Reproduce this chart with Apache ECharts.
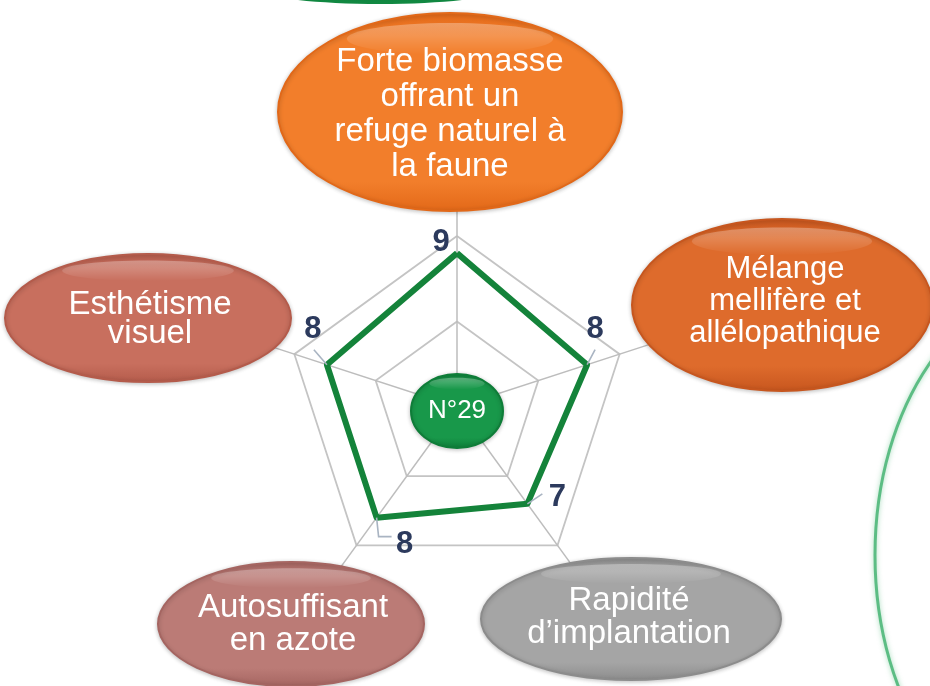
<!DOCTYPE html>
<html><head><meta charset="utf-8">
<script src="https://cdn.jsdelivr.net/npm/echarts@6/dist/echarts.min.js"></script>
<style>html,body{margin:0;padding:0;background:#fff}#c{width:930px;height:686px}</style>
</head><body><div id="c"></div>
<script>
// ---- data ----
const indicatorNames = [
  'Forte biomasse\noffrant un\nrefuge naturel à\nla faune',
  'Esthétisme\nvisuel',
  'Autosuffisant\nen azote',
  'Rapidité\nd\u2019implantation',
  'Mélange\nmellifère et\nallélopathique'
];
const scores = [9, 8, 8, 7, 8];
const maxScore = 10;
const seriesName = 'N°29';

// ---- layout / styles ----
const FONT = '"Liberation Sans", Arial, sans-serif';
const CENTER = [457, 407];
const R = 171;
// bubble layout for each indicator: [cx, cy, rx, ry, colorMain, colorEdge, fontSize, lineHeight, textDx, textDy]
const bubbles = [
  [450, 112, 172, 99, '#F27E2B', '#E26818', 33, 35, 0, 2],
  [148, 318, 143, 64, '#C86F5E', '#B45B4B', 33, 29, 2, 1],
  [291, 624, 133, 62, '#BB7B76', '#A56561', 33, 33, 2, 0],
  [631, 619, 150, 61, '#A5A5A5', '#8C8C8C', 33, 33, -2, -2],
  [782, 305, 150, 86, '#DE6B2C', '#C7561E', 31, 32, 3, -4]
];
// value label offsets relative to data vertex
const labelLayout = [
  {d: [-16, -11], lead: []},
  {d: [-14, -35], lead: [[-13, -15]]},
  {d: [28, 27], lead: [[2, 19], [15, 19]]},
  {d: [30, -6], lead: [[15, -10]]},
  {d: [8, -35], lead: [[8, -15]]}
];

const chart = echarts.init(document.getElementById('c'), null, {renderer: 'canvas'});
const ind = indicatorNames.map(n => ({name: n, max: maxScore}));
chart.setOption({
  animation: false,
  backgroundColor: '#ffffff',
  radar: [
    {
      center: CENTER, radius: 205, startAngle: 90, splitNumber: 1, shape: 'polygon',
      indicator: ind,
      axisName: {show: false},
      axisLine: {lineStyle: {color: '#bdbdbd', width: 1.5}},
      splitLine: {show: false}, splitArea: {show: false},
      axisTick: {show: false}, axisLabel: {show: false}
    },
    {
      center: CENTER, radius: R, startAngle: 90, splitNumber: 2, shape: 'polygon',
      indicator: ind,
      axisName: {show: false},
      axisLine: {show: false},
      splitLine: {lineStyle: {color: '#c4c4c4', width: 1.8}},
      splitArea: {show: false},
      axisTick: {show: false}, axisLabel: {show: false}
    }
  ],
  series: [{
    type: 'radar', radarIndex: 1, name: seriesName, symbol: 'none', z: 3,
    lineStyle: {color: '#14833A', width: 6},
    data: [{value: scores, name: seriesName}]
  }]
});

const rc = chart.getModel().getComponent('radar', 1).coordinateSystem;
const pts = scores.map((v, i) => rc.dataToPoint(v, i));
const cx = rc.cx, cy = rc.cy;

const g = [];
// decorative green shapes
g.push({type: 'ellipse', z: 1, shape: {cx: 380, cy: -12, rx: 124, ry: 16},
  style: {fill: {type: 'linear', x: 0, y: 0, x2: 0, y2: 1, colorStops: [{offset: 0, color: '#0B6E33'}, {offset: 1, color: '#118A42'}]}}});
g.push({type: 'ellipse', z: 1, shape: {cx: 1060, cy: 555, rx: 185, ry: 270},
  style: {fill: 'none', stroke: 'rgba(70,180,115,0.85)', lineWidth: 3, shadowBlur: 5, shadowColor: 'rgba(70,180,115,0.6)'}});

function bubble(b, text) {
  const [bx, by, rx, ry, c1, c2, fs, lh, tdx, tdy] = b;
  g.push({type: 'ellipse', z: 100, shape: {cx: bx, cy: by, rx: rx, ry: ry},
    style: {fill: {type: 'linear', x: 0, y: 0, x2: 0, y2: 1, colorStops: [{offset: 0, color: c2}, {offset: 0.12, color: c1}, {offset: 0.85, color: c1}, {offset: 1, color: c2}]},
      stroke: c2, lineWidth: 2,
      shadowBlur: 4, shadowColor: 'rgba(0,0,0,0.22)', shadowOffsetY: 1}});
  g.push({type: 'ellipse', z: 101, shape: {cx: bx, cy: by - ry * 0.74, rx: rx * 0.6, ry: ry * 0.16},
    style: {fill: {type: 'linear', x: 0, y: 0, x2: 0, y2: 1, colorStops: [{offset: 0, color: 'rgba(255,255,255,0.3)'}, {offset: 1, color: 'rgba(255,255,255,0)'}]}}});
  if (text) {
    g.push({type: 'text', z: 102, x: bx + tdx, y: by + tdy,
      style: {text: text, fill: '#ffffff', fontFamily: FONT, fontSize: fs, lineHeight: lh, align: 'center', verticalAlign: 'middle'}});
  }
}
indicatorNames.forEach((n, i) => bubble(bubbles[i], n));

// centre badge
bubble([cx, cy + 4, 46, 37, '#18984A', '#0E7D38', 26, 26, 0, 0], seriesName);

// value labels with leader lines
pts.forEach((p, i) => {
  const L = labelLayout[i];
  if (L.lead.length) {
    const poly = [[p[0], p[1]]].concat(L.lead.map(o => [p[0] + o[0], p[1] + o[1]]));
    g.push({type: 'polyline', z: 50, shape: {points: poly}, style: {stroke: '#a9b4c2', lineWidth: 1.6, fill: null}});
  }
  g.push({type: 'text', z: 60, x: p[0] + L.d[0], y: p[1] + L.d[1],
    style: {text: String(scores[i]), fill: '#2C3A5D', fontFamily: FONT, fontSize: 31, fontWeight: 'bold', align: 'center', verticalAlign: 'middle'}});
});

chart.setOption({graphic: {elements: g}});
</script></body></html>
